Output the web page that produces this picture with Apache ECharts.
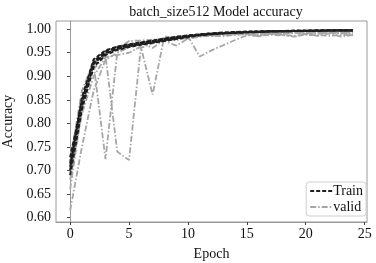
<!DOCTYPE html>
<html><head><meta charset="utf-8">
<script src="https://cdn.jsdelivr.net/npm/echarts@6/dist/echarts.min.js"></script>
<style>html,body{margin:0;padding:0;background:#fff}#c{width:376px;height:263px}</style>
</head><body><div id="c"></div>
<script>
const epochs = [0,1,2,3,4,5,6,7,8,9,10,11,12,13,14,15,16,17,18,19,20,21,22,23,24];
const xTicks = [0,5,10,15,20,25];
const yTicks = [0.60,0.65,0.70,0.75,0.80,0.85,0.90,0.95,1.00];

const train1 = [0.700,0.840,0.928,0.950,0.960,0.965,0.969,0.973,0.977,0.981,0.985,0.988,0.990,0.992,0.993,0.994,0.995,0.995,0.996,0.996,0.996,0.997,0.997,0.997,0.997];
const train2 = [0.690,0.830,0.920,0.945,0.956,0.962,0.967,0.971,0.975,0.979,0.983,0.987,0.989,0.991,0.992,0.993,0.994,0.995,0.995,0.996,0.996,0.996,0.997,0.997,0.997];
const train3 = [0.715,0.848,0.932,0.953,0.962,0.967,0.971,0.975,0.979,0.983,0.986,0.989,0.991,0.992,0.993,0.994,0.995,0.996,0.996,0.996,0.997,0.997,0.997,0.998,0.998];
const train4 = [0.728,0.845,0.926,0.948,0.958,0.964,0.968,0.972,0.977,0.981,0.985,0.988,0.990,0.991,0.993,0.994,0.994,0.995,0.995,0.996,0.996,0.997,0.997,0.997,0.997];
const train5 = [0.708,0.855,0.936,0.955,0.963,0.968,0.972,0.976,0.980,0.984,0.987,0.989,0.991,0.993,0.994,0.995,0.995,0.996,0.996,0.997,0.997,0.997,0.998,0.998,0.998];

const valid1 = [0.615,0.750,0.870,0.935,0.950,0.962,0.970,0.975,0.978,0.982,0.985,0.942,0.955,0.966,0.977,0.987,0.986,0.988,0.987,0.986,0.988,0.987,0.986,0.988,0.987];
const valid2 = [0.660,0.830,0.925,0.724,0.950,0.965,0.972,0.960,0.978,0.983,0.980,0.986,0.988,0.990,0.989,0.991,0.990,0.992,0.991,0.993,0.992,0.993,0.992,0.993,0.992];
const valid3 = [0.700,0.850,0.915,0.945,0.740,0.722,0.960,0.970,0.975,0.965,0.980,0.984,0.986,0.985,0.988,0.990,0.989,0.991,0.990,0.992,0.991,0.990,0.992,0.991,0.990];
const valid4 = [0.680,0.820,0.900,0.940,0.945,0.950,0.963,0.861,0.985,0.980,0.984,0.987,0.986,0.988,0.990,0.989,0.985,0.990,0.988,0.984,0.990,0.986,0.991,0.984,0.988];
const valid5 = [0.720,0.870,0.930,0.948,0.958,0.975,0.976,0.978,0.980,0.976,0.983,0.985,0.988,0.989,0.988,0.990,0.991,0.992,0.991,0.993,0.992,0.993,0.994,0.993,0.994];

const trains = [train1,train2,train3,train4,train5];
const valids = [valid1,valid2,valid3,valid4,valid5];
const FONT = '"Liberation Serif","DejaVu Serif",serif';

const series = [];
valids.forEach(v => series.push({
  name: 'valid', type: 'line', symbol: 'none', z: 2,
  data: epochs.map((e,i)=>[e,v[i]]),
  lineStyle: {color:'#a6a6a6', width:1.8, type:[6,2,1.5,2]},
  itemStyle: {color:'#a6a6a6'}
}));
trains.forEach(t => series.push({
  name: 'Train', type: 'line', symbol: 'none', z: 3,
  data: epochs.map((e,i)=>[e,t[i]]),
  lineStyle: {color:'#1e1e1e', width:2, type:[4,2]},
  itemStyle: {color:'#1e1e1e'}
}));

const chart = echarts.init(document.getElementById('c'), null, {renderer:'canvas'});
chart.setOption({
  animation: false,
  backgroundColor: '#fff',
  title: {text:'batch_size512 Model accuracy', left: 211, top: 0, textAlign:'center',
    textStyle:{fontFamily:FONT, fontSize:14, fontWeight:'normal', color:'#111'}},
  grid: {left:56, right:9, top:21, bottom:41, show:true, borderColor:'#9a9a9a', borderWidth:1,
    containLabel:false, outerBoundsMode:'none'},
  legend: {data:['Train','valid'], orient:'vertical', right:10, bottom:47,
    itemWidth:22, itemHeight:10, itemGap:2, padding:[2,3,2,3],
    itemStyle:{opacity:0, borderWidth:0},
    borderColor:'#cfcfcf', borderWidth:1, borderRadius:3, backgroundColor:'#fff',
    textStyle:{fontFamily:FONT, fontSize:14, color:'#111', padding:[0,0,0,-4]}},
  xAxis: {type:'value', min:-1.2, max:25.2,
    name:'Epoch', nameLocation:'middle', nameGap:25,
    nameTextStyle:{fontFamily:FONT, fontSize:14, color:'#111'},
    axisLine:{show:true, lineStyle:{color:'#9a9a9a'}},
    axisTick:{show:true, inside:false, length:3, customValues:xTicks, lineStyle:{color:'#444'}},
    axisLabel:{customValues:xTicks, fontFamily:FONT, fontSize:14, color:'#111', margin:5},
    splitLine:{show:false}},
  yAxis: {type:'value', min:0.5906, max:1.0174,
    name:'Accuracy', nameLocation:'middle', nameGap:37, nameRotate:90,
    nameTextStyle:{fontFamily:FONT, fontSize:14, color:'#111'},
    axisLine:{show:true, lineStyle:{color:'#9a9a9a'}},
    axisTick:{show:true, inside:false, length:3, customValues:yTicks, lineStyle:{color:'#444'}},
    axisLabel:{customValues:yTicks, fontFamily:FONT, fontSize:14, color:'#111', margin:5,
      formatter: v => v.toFixed(2)},
    splitLine:{show:false}},
  series: series
});
</script></body></html>
